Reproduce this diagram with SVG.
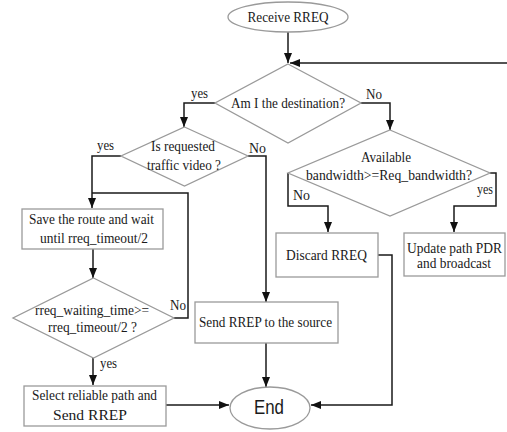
<svg xmlns="http://www.w3.org/2000/svg" width="507" height="432" viewBox="0 0 507 432">
<defs>
<marker id="arr" markerUnits="userSpaceOnUse" markerWidth="10" markerHeight="10" viewBox="0 0 10 10" refX="10" refY="5" orient="auto">
<path d="M0,1 L10,5 L0,9 Z" fill="#111"/>
</marker>
</defs>
<style>
.shape{fill:#fff;stroke:#9a9a9a;stroke-width:1.3}
.t{font-family:"Liberation Serif","Times New Roman",serif;font-size:15px;fill:#1a1a1a;text-anchor:middle}
.l{font-family:"Liberation Serif","Times New Roman",serif;font-size:15px;fill:#1a1a1a}
.e{font-family:"Liberation Sans",Arial,sans-serif;font-size:20px;fill:#1a1a1a;text-anchor:middle}
.c{fill:none;stroke:#1a1a1a;stroke-width:1.5}
</style>
<rect width="507" height="432" fill="#fff"/>
<g id="connectors">
<path class="c" d="M288,32 V63" marker-end="url(#arr)"/>
<path class="c" d="M507,63 H290" marker-end="url(#arr)"/>
<path class="c" d="M215,103 H184 V127" marker-end="url(#arr)"/>
<path class="c" d="M361,103 H390 V130" marker-end="url(#arr)"/>
<path class="c" d="M121,156 H92 V208" marker-end="url(#arr)"/>
<path class="c" d="M248,156 H266 V302" marker-end="url(#arr)"/>
<path class="c" d="M288,173 V206 H328 V232" marker-end="url(#arr)"/>
<path class="c" d="M490,173 H496 V206 H454 V232" marker-end="url(#arr)"/>
<path class="c" d="M93,249 V278" marker-end="url(#arr)"/>
<path class="c" d="M174,318 H188 V193 H92"/>
<path class="c" d="M93,358 V385" marker-end="url(#arr)"/>
<path class="c" d="M266,343 V387" marker-end="url(#arr)"/>
<path class="c" d="M166,405 H229" marker-end="url(#arr)"/>
<path class="c" d="M378,255 H392 V405 H311" marker-end="url(#arr)"/>
<text class="l" x="191" y="98" textLength="17" lengthAdjust="spacingAndGlyphs">yes</text>
<text class="l" x="366" y="99" textLength="16" lengthAdjust="spacingAndGlyphs">No</text>
<text class="l" x="97" y="150" textLength="17" lengthAdjust="spacingAndGlyphs">yes</text>
<text class="l" x="249" y="153" textLength="17" lengthAdjust="spacingAndGlyphs">No</text>
<text class="l" x="293" y="200" textLength="17" lengthAdjust="spacingAndGlyphs">No</text>
<text class="l" x="477" y="194" textLength="16" lengthAdjust="spacingAndGlyphs">yes</text>
<text class="l" x="170" y="310" textLength="16" lengthAdjust="spacingAndGlyphs">No</text>
<text class="l" x="100" y="368" textLength="17" lengthAdjust="spacingAndGlyphs">yes</text>
</g>
<g id="receive">
<ellipse class="shape" cx="288" cy="17" rx="60" ry="15"/>
<text class="t" x="288" y="22" textLength="81" lengthAdjust="spacingAndGlyphs">Receive RREQ</text>
</g>
<g id="dest">
<polygon class="shape" points="288,64 361,103 288,143 215,103"/>
<text class="t" x="288" y="108" textLength="114" lengthAdjust="spacingAndGlyphs">Am I the destination?</text>
</g>
<g id="video">
<polygon class="shape" points="184.5,127 248,156 184.5,186 121,156"/>
<text class="t" x="183" y="151" textLength="64" lengthAdjust="spacingAndGlyphs">Is requested</text>
<text class="t" x="184" y="170" textLength="74" lengthAdjust="spacingAndGlyphs">traffic video ?</text>
</g>
<g id="bandwidth">
<polygon class="shape" points="390,130 490,173 390,216 288,173"/>
<text class="t" x="386" y="162" textLength="50" lengthAdjust="spacingAndGlyphs">Available</text>
<text class="t" x="389" y="180" textLength="166" lengthAdjust="spacingAndGlyphs">bandwidth&gt;=Req_bandwidth?</text>
</g>
<g id="save">
<rect class="shape" x="22" y="209" width="141" height="40"/>
<text class="t" x="91.5" y="224" textLength="125" lengthAdjust="spacingAndGlyphs">Save the route and wait</text>
<text class="t" x="94" y="243" textLength="108" lengthAdjust="spacingAndGlyphs">until rreq_timeout/2</text>
</g>
<g id="discard">
<rect class="shape" x="276" y="233" width="102" height="44"/>
<text class="t" x="326.5" y="260" textLength="81" lengthAdjust="spacingAndGlyphs">Discard RREQ</text>
</g>
<g id="update">
<rect class="shape" x="404" y="233" width="101" height="43"/>
<text class="t" x="454.5" y="253" style="font-size:14px" textLength="95" lengthAdjust="spacingAndGlyphs">Update path PDR</text>
<text class="t" x="454" y="268" textLength="74" lengthAdjust="spacingAndGlyphs">and broadcast</text>
</g>
<g id="waiting">
<polygon class="shape" points="93.5,278 174,318 93.5,358 13,318"/>
<text class="t" x="92" y="315" textLength="114" lengthAdjust="spacingAndGlyphs">rreq_waiting_time&gt;=</text>
<text class="t" x="92.5" y="332" textLength="89" lengthAdjust="spacingAndGlyphs">rreq_timeout/2 ?</text>
</g>
<g id="sendrrep">
<rect class="shape" x="195" y="302" width="143" height="41"/>
<text class="t" x="265.5" y="327" textLength="133" lengthAdjust="spacingAndGlyphs">Send RREP to the source</text>
</g>
<g id="select">
<rect class="shape" x="24" y="386" width="142" height="40"/>
<text class="t" x="94.5" y="400" textLength="125" lengthAdjust="spacingAndGlyphs">Select reliable path and</text>
<text class="t" x="90" y="420" textLength="74" lengthAdjust="spacingAndGlyphs">Send RREP</text>
</g>
<g id="end">
<ellipse class="shape" cx="270" cy="408" rx="40" ry="21"/>
<text class="e" x="269" y="414" textLength="30" lengthAdjust="spacingAndGlyphs">End</text>
</g>
</svg>
